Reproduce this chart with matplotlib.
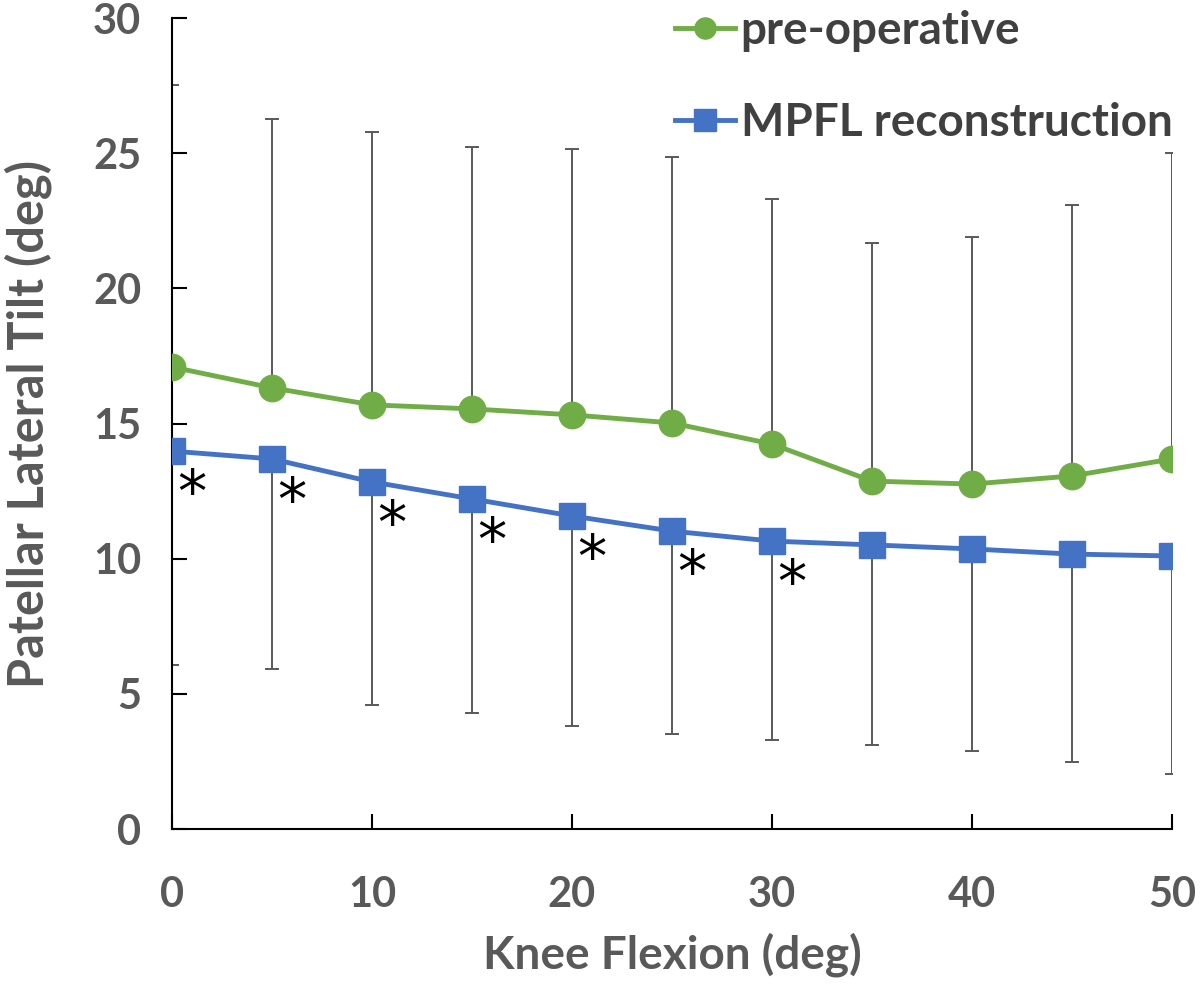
import matplotlib
matplotlib.use("Agg")
import matplotlib.pyplot as plt
import numpy as np

# knee flexion angles (deg)
flexion = [0, 5, 10, 15, 20, 25, 30, 35, 40, 45, 50]

# pre-operative mean and upper end of SD bar
pre_mean = [17.09, 16.32, 15.69, 15.54, 15.32, 15.02, 14.24, 12.87, 12.76, 13.06, 13.69]
pre_upper = [27.52, 26.27, 25.79, 25.23, 25.16, 24.86, 23.31, 21.68, 21.90, 23.09, 25.01]

# MPFL reconstruction mean and lower end of SD bar
mpfl_mean = [13.98, 13.69, 12.84, 12.21, 11.58, 11.02, 10.65, 10.51, 10.36, 10.17, 10.10]
mpfl_lower = [6.07, 5.92, 4.59, 4.29, 3.81, 3.51, 3.29, 3.11, 2.89, 2.48, 2.03]

# angles with significant difference
signif = [0, 5, 10, 15, 20, 25, 30]

x_ticks = [0, 10, 20, 30, 40, 50]
y_ticks = [0, 5, 10, 15, 20, 25, 30]

green = "#70AD47"
blue = "#4472C4"
txt = "#404040"

plt.rcParams['font.family'] = ['Lato', 'DejaVu Sans']

fig = plt.figure(figsize=(12, 9.84), dpi=100)
ax = fig.add_axes([0.1433, 0.1575, 0.8334, 0.8242])

pre_mean_a = np.array(pre_mean)
mpfl_mean_a = np.array(mpfl_mean)
up_err = np.array(pre_upper) - pre_mean_a
lo_err = mpfl_mean_a - np.array(mpfl_lower)
zero = np.zeros(len(flexion))

ax.errorbar(flexion, pre_mean, yerr=[zero, up_err], fmt='none', ecolor='#595959',
            elinewidth=1.4, capsize=5, capthick=1.4, zorder=2)
ax.errorbar(flexion, mpfl_mean, yerr=[lo_err, zero], fmt='none', ecolor='#595959',
            elinewidth=1.4, capsize=5, capthick=1.4, zorder=2)

ax.plot(flexion, pre_mean, color=green, lw=3.5, marker='o', ms=19,
        label='pre-operative', zorder=4)
ax.plot(flexion, mpfl_mean, color=blue, lw=3.5, marker='s', ms=19,
        label='MPFL reconstruction', zorder=4)

for a in signif:
    ax.annotate('*', (a, mpfl_mean[flexion.index(a)]), xytext=(14, -32),
                textcoords='offset points', ha='center', va='center',
                fontsize=42, color='black', family='DejaVu Sans', zorder=5)

ax.set_xlim(0, 50)
ax.set_ylim(0, 30)
ax.set_xticks(x_ticks)
ax.set_yticks(y_ticks)
for s in ['top', 'right']:
    ax.spines[s].set_visible(False)
for s in ['left', 'bottom']:
    ax.spines[s].set_linewidth(1.5)
ax.tick_params(direction='in', length=11, width=1.5, labelsize=30,
               labelcolor='#595959')
ax.tick_params(axis='y', pad=22)
ax.tick_params(axis='x', pad=34)
for lab in ax.get_xticklabels() + ax.get_yticklabels():
    lab.set_fontweight('bold')

ax.set_xlabel('Knee Flexion (deg)', fontsize=33, fontweight='bold', color='#595959')
ax.set_ylabel('Patellar Lateral Tilt (deg)', fontsize=35, fontweight='bold', color='#595959')
ax.xaxis.set_label_coords(0.5, -0.155)
ax.xaxis.label.set_va('center')
ax.yaxis.set_label_coords(-0.144, 0.5)
ax.yaxis.label.set_va('center')

leg = ax.legend(loc='upper right', bbox_to_anchor=(0.977, 0.99),
                bbox_transform=fig.transFigure, frameon=False, borderpad=0,
                borderaxespad=0, handlelength=1.3, handletextpad=0.12,
                labelspacing=1.1, markerscale=0.8,
                prop={'size': 33, 'weight': 'bold'})
for t in leg.get_texts():
    t.set_color(txt)

fig.savefig('out.png', dpi=100)
